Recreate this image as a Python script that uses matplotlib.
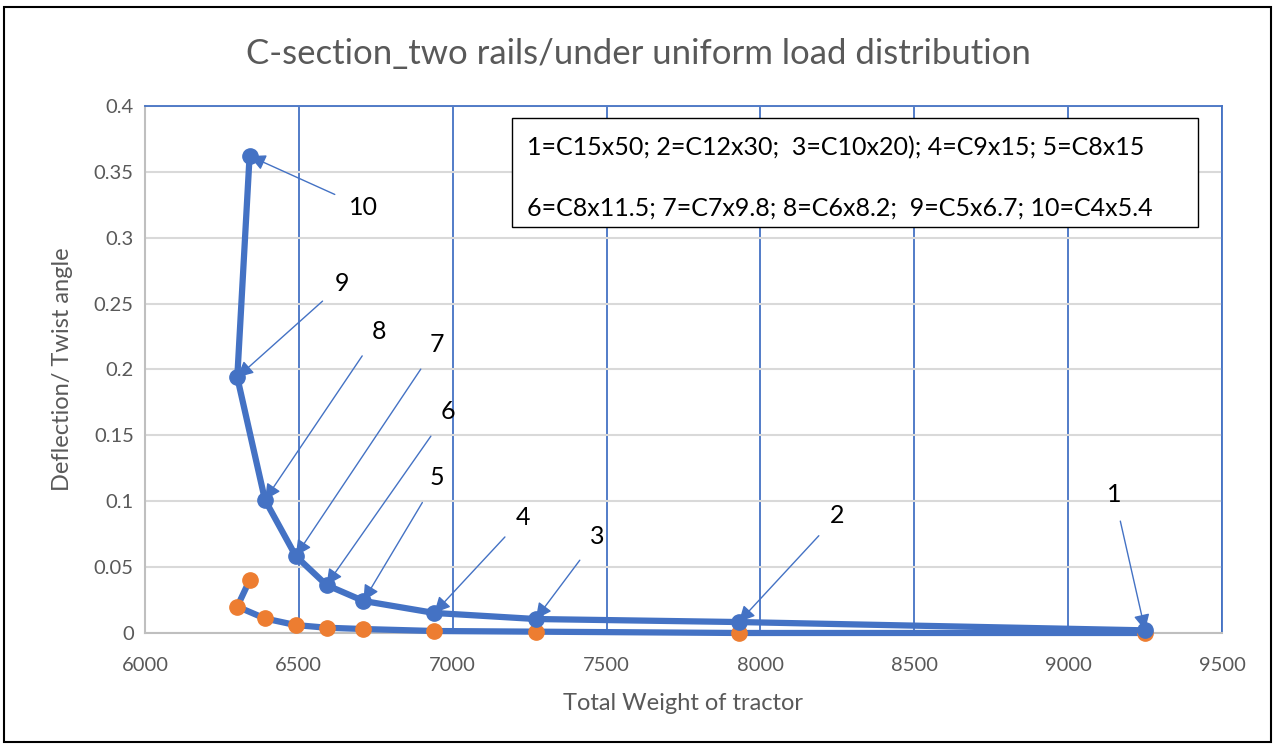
import matplotlib.pyplot as plt
from matplotlib.patches import Rectangle

plt.rcParams['font.family'] = ['Lato', 'DejaVu Sans']

# section numbers 1..10 and their results
labels = ['1', '2', '3', '4', '5', '6', '7', '8', '9', '10']
weight = [9250, 7930, 7270, 6940, 6710, 6590, 6490, 6390, 6300, 6340]
deflection = [0.002, 0.0083, 0.0106, 0.0152, 0.0243, 0.0364, 0.0584, 0.101, 0.194, 0.362]
twist = [0.0, 0.0, 0.001, 0.0015, 0.003, 0.004, 0.006, 0.011, 0.02, 0.04]

# where each callout label sits (data coords)
label_x = [9150, 8250, 7470, 7230, 6950, 6985, 6950, 6760, 6640, 6710]
label_y = [0.105, 0.089, 0.073, 0.088, 0.118, 0.168, 0.219, 0.229, 0.265, 0.323]

legend_lines = ['1=C15x50; 2=C12x30;  3=C10x20); 4=C9x15; 5=C8x15',
                '6=C8x11.5; 7=C7x9.8; 8=C6x8.2;  9=C5x6.7; 10=C4x5.4']

blue = '#4472C4'
orange = '#ED7D31'
tick_color = '#595959'

fig = plt.figure(figsize=(12.76, 7.46), dpi=100)
ax = fig.add_axes([0.1136, 0.1515, 0.8441, 0.7065])

ax.plot(weight, twist, color=blue, lw=4.5, marker='o', ms=11,
        mfc=orange, mec=orange, zorder=3, clip_on=False)
ax.plot(weight, deflection, color=blue, lw=4.5, marker='o', ms=11,
        mfc=blue, mec=blue, zorder=4, clip_on=False)

for lab, x, y, tx, ty in zip(labels, weight, deflection, label_x, label_y):
    ax.annotate(lab, xy=(x, y), xytext=(tx, ty), fontsize=18, color='black',
                ha='center', va='center',
                arrowprops=dict(arrowstyle='-|>', color=blue, lw=1.0,
                                mutation_scale=24, shrinkA=9, shrinkB=0),
                zorder=5)

ax.set_xlim(6000, 9500)
ax.set_ylim(0, 0.4)
ax.set_xticks(range(6000, 9501, 500))
ax.set_yticks([i * 0.05 for i in range(9)])
ax.set_yticklabels(['0', '0.05', '0.1', '0.15', '0.2', '0.25', '0.3', '0.35', '0.4'])

ax.yaxis.grid(True, color='#D9D9D9', lw=1.5)
ax.xaxis.grid(True, color=blue, lw=1.3)
ax.set_axisbelow(True)

for side in ['top', 'right']:
    ax.spines[side].set_color(blue)
    ax.spines[side].set_linewidth(1.3)
for side in ['left', 'bottom']:
    ax.spines[side].set_color('#BFBFBF')
    ax.spines[side].set_linewidth(1.5)

ax.tick_params(length=0, labelsize=14.5, labelcolor=tick_color)
ax.tick_params(axis='x', pad=17)
ax.tick_params(axis='y', pad=8)
ax.set_xlabel('Total Weight of tractor', fontsize=17, color=tick_color, labelpad=14)
ax.set_ylabel('Deflection/ Twist angle', fontsize=17, color=tick_color, labelpad=15)

fig.text(0.5, 0.928, 'C-section_two rails/under uniform load distribution',
         ha='center', va='center', fontsize=25, color=tick_color)

# section key box
ax.add_patch(Rectangle((0.341, 0.77), 0.637, 0.208, transform=ax.transAxes,
                       facecolor='white', edgecolor='black', lw=1.0, zorder=6))
ax.text(0.355, 0.92, legend_lines[0], transform=ax.transAxes, fontsize=18,
        va='center', ha='left', zorder=7)
ax.text(0.355, 0.806, legend_lines[1], transform=ax.transAxes, fontsize=18,
        va='center', ha='left', zorder=7)

# outer frame
fig.patches.append(Rectangle((0.003, 0.005), 0.993, 0.986, transform=fig.transFigure,
                             fill=False, edgecolor='black', lw=1.5))

fig.savefig('out.png', dpi=100)
